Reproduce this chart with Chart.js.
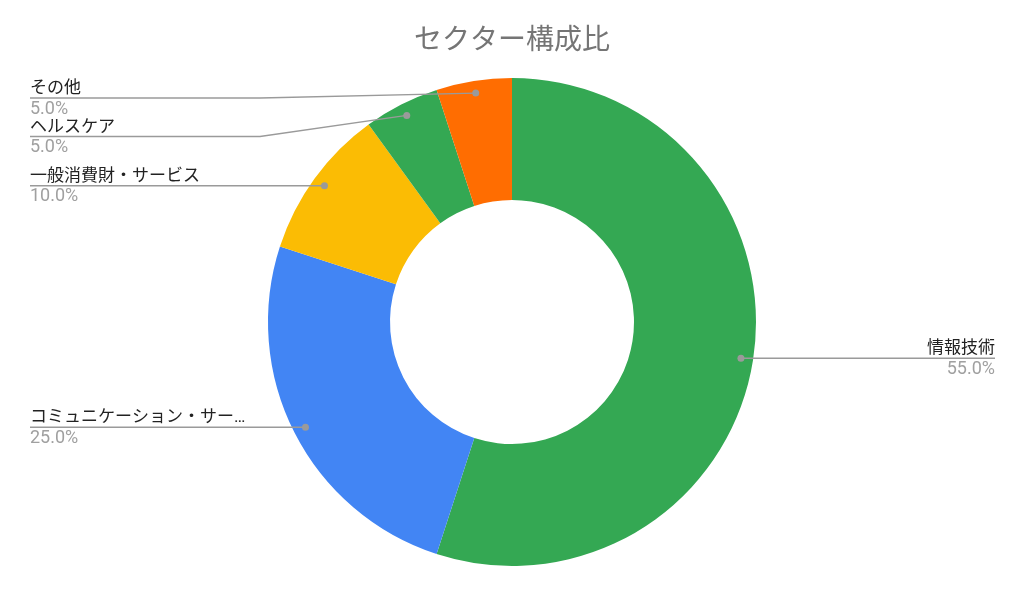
<!DOCTYPE html>
<html>
<head>
<meta charset="utf-8">
<script src="https://cdn.jsdelivr.net/npm/chart.js@4/dist/chart.umd.min.js"></script>
<style>
  body { margin: 0; background: #fff; }
  #wrap { width: 1024px; height: 596px; position: relative; }
</style>
</head>
<body>
<div id="wrap"><canvas id="sectorChart"></canvas></div>
<script>
// data
const SECTORS = ["情報技術", "コミュニケーション・サービス", "一般消費財・サービス", "ヘルスケア", "その他"];
const SHARES  = [55, 25, 10, 5, 5];

// slice colours
const SLICE_COLORS = ["#34a853", "#4285f4", "#fbbc04", "#34a853", "#ff6d01"];

const FONT = "Roboto, 'Noto Sans CJK JP', sans-serif";
const LINE_COL = "#9a9a9a";

// cut a label down with an ellipsis if too wide
function fitText(ctx, s, maxW) {
  if (ctx.measureText(s).width <= maxW) return s;
  let t = s;
  while (t.length > 1 && ctx.measureText(t + "…").width > maxW) t = t.slice(0, -1);
  return t + "…";
}

// leader lines + labels, google sheets style
const leaderLabels = {
  id: "leaderLabels",
  afterDatasetsDraw(chart) {
    const ctx = chart.ctx;
    const area = chart.chartArea;
    const meta = chart.getDatasetMeta(0);
    const total = SHARES.reduce((a, b) => a + b, 0);

    const items = meta.data.map((arc, i) => {
      const mid = (arc.startAngle + arc.endAngle) / 2;
      const r = arc.outerRadius * 0.95;
      return {
        i: i,
        x: arc.x + Math.cos(mid) * r,
        y: arc.y + Math.sin(mid) * r,
        right: Math.cos(mid) >= 0
      };
    });

    const GAP = 38.5;
    const minY = area.top + 20;
    const leftX = 30, bendX = 260, rightX = 995;

    function place(list) {
      list.sort((a, b) => a.y - b.y);
      let prev = -Infinity;
      list.forEach(it => {
        it.ly = Math.max(it.y, prev + GAP, minY);
        prev = it.ly;
      });
    }
    const left = items.filter(it => !it.right);
    const right = items.filter(it => it.right);
    place(left);
    place(right);

    ctx.save();
    ctx.lineWidth = 1.3;
    ctx.strokeStyle = LINE_COL;
    ctx.fillStyle = LINE_COL;

    left.forEach(it => {
      ctx.beginPath();
      ctx.moveTo(leftX, it.ly);
      ctx.lineTo(bendX, it.ly);
      ctx.lineTo(it.x, it.y);
      ctx.stroke();
      ctx.beginPath();
      ctx.arc(it.x, it.y, 3.5, 0, Math.PI * 2);
      ctx.fill();
    });
    right.forEach(it => {
      ctx.beginPath();
      ctx.moveTo(it.x, it.y);
      ctx.lineTo(rightX, it.ly);
      ctx.stroke();
      ctx.beginPath();
      ctx.arc(it.x, it.y, 3.5, 0, Math.PI * 2);
      ctx.fill();
    });

    ctx.textBaseline = "alphabetic";
    items.forEach(it => {
      const pct = (SHARES[it.i] / total * 100).toFixed(1) + "%";
      const x = it.right ? rightX : leftX;
      ctx.textAlign = it.right ? "right" : "left";
      ctx.font = "17px " + FONT;
      ctx.fillStyle = "#222222";
      ctx.fillText(fitText(ctx, SECTORS[it.i], bendX - leftX - 4), x, it.ly - 5);
      ctx.font = "18px " + FONT;
      ctx.fillStyle = "#a0a0a0";
      ctx.fillText(pct, x, it.ly + 15.5);
    });
    ctx.restore();
  }
};

new Chart(document.getElementById("sectorChart"), {
  type: "doughnut",
  data: {
    labels: SECTORS,
    datasets: [{
      data: SHARES,
      backgroundColor: SLICE_COLORS,
      borderWidth: 0,
      hoverOffset: 0
    }]
  },
  options: {
    responsive: true,
    maintainAspectRatio: false,
    animation: false,
    cutout: "50%",
    layout: { padding: { top: 0, bottom: 30, left: 0, right: 0 } },
    plugins: {
      legend: { display: false },
      tooltip: { enabled: false },
      title: {
        display: true,
        text: "セクター構成比",
        color: "#757575",
        font: { family: FONT, size: 28, weight: "normal", lineHeight: 1.2 },
        padding: { top: 25, bottom: 19.4 }
      }
    }
  },
  plugins: [leaderLabels]
});
</script>
</body>
</html>
